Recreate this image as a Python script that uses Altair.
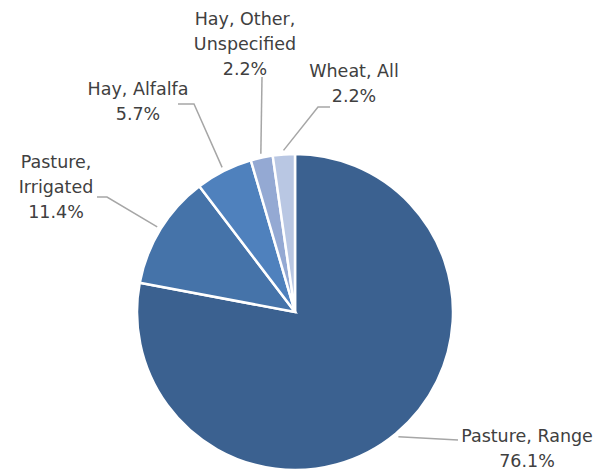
import altair as alt
import pandas as pd
import numpy as np

# ---- data ----
categories = ["Pasture, Range", "Pasture, Irrigated", "Hay, Alfalfa", "Hay, Other, Unspecified", "Wheat, All"]
label_text = ["Pasture, Range", "Pasture,\nIrrigated", "Hay, Alfalfa", "Hay, Other,\nUnspecified", "Wheat, All"]
values = [76.1, 11.4, 5.7, 2.2, 2.2]
colors = ["#3B6190", "#4573A9", "#4F81BD", "#94A9D3", "#B9C7E3"]

# ---- layout (pixels, relative to pie centre, y downward) ----
W, H = 592, 461
CX, CY = 287, 304          # pie centre inside the view
R = 158                    # pie radius
R_LEAD = 162               # where leader lines start
label_pos = [(232, 125), (-239, -149), (-157, -222), (-50, -292), (59, -240)]  # first-line centres
leader_bends = [
    [(163, 128)],
    [(-188, -115), (-198, -115)],
    [(-101, -208), (-117, -208)],
    [(-33, -235)],
    [(23, -205), (35, -205)],
]

xs = alt.Scale(domain=[-CX, W - CX], range=[0, W])
ys = alt.Scale(domain=[-CY, H - CY], range=[0, H])

pie_df = pd.DataFrame({"cat": categories, "value": values, "order": list(range(len(values)))})

total = sum(values)
cum = np.cumsum([0] + values[:-1])
mids = [(c + v / 2) / total * 2 * np.pi for c, v in zip(cum, values)]

lab_rows, line_rows = [], []
for i, (lt, v, m) in enumerate(zip(label_text, values, mids)):
    lx, ly = label_pos[i]
    lab_rows.append({"txt": f"{lt}\n{v:.1f}%", "x": lx, "y": ly})
    pts = [(R_LEAD * np.sin(m), -R_LEAD * np.cos(m))] + leader_bends[i]
    for j, (px, py) in enumerate(pts):
        line_rows.append({"cat": categories[i], "seq": j, "x": px, "y": py})
lab_df = pd.DataFrame(lab_rows)
line_df = pd.DataFrame(line_rows)

pie = alt.Chart(pie_df).mark_arc(outerRadius=R, stroke="white", strokeWidth=2.5).encode(
    theta=alt.Theta("value:Q", stack=True),
    order=alt.Order("order:Q"),
    color=alt.Color("cat:N", scale=alt.Scale(domain=categories, range=colors), legend=None),
    x=alt.X(datum=0, scale=xs, axis=None),
    y=alt.Y(datum=0, scale=ys, axis=None),
)

lines = alt.Chart(line_df).mark_line(color="#A6A6A6", strokeWidth=1.5).encode(
    x=alt.X("x:Q", scale=xs, axis=None),
    y=alt.Y("y:Q", scale=ys, axis=None),
    detail="cat:N",
    order="seq:Q",
)

labels = alt.Chart(lab_df).mark_text(
    font="DejaVu Sans", fontSize=17.5, color="#404040", lineBreak="\n", lineHeight=25,
    align="center", baseline="middle",
).encode(
    x=alt.X("x:Q", scale=xs, axis=None),
    y=alt.Y("y:Q", scale=ys, axis=None),
    text="txt:N",
)

chart = alt.layer(lines, pie, labels).properties(
    width=W, height=H, padding=0, autosize=alt.AutoSizeParams(type="none"),
).configure_view(stroke=None)

chart.save("out.html", embed_options={"renderer": "svg", "actions": False})
